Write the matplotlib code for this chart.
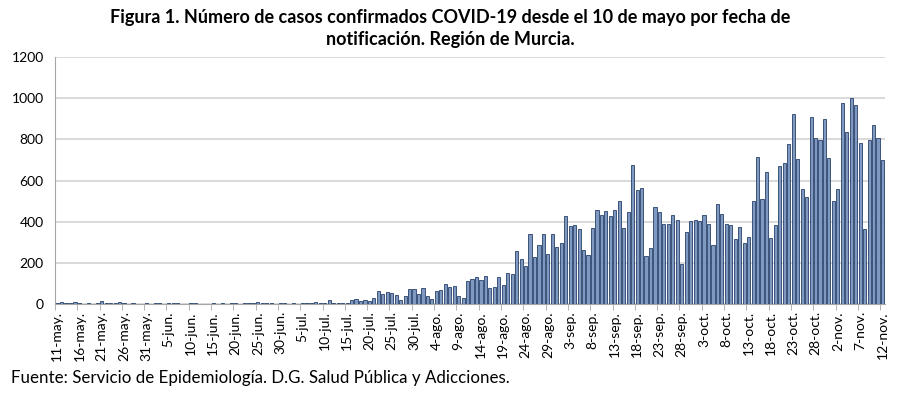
import numpy as np
import pandas as pd
import matplotlib
matplotlib.use("Agg")
import matplotlib.pyplot as plt
from matplotlib.ticker import MultipleLocator, FixedLocator

plt.rcParams['font.family'] = ['Lato', 'DejaVu Sans']

# daily cases, 11-may .. 12-nov
may = [8, 10, 6, 4, 9, 7, 3, 5, 2, 6, 14, 8, 5, 7, 10, 4, 2, 6, 3, 0, 5]
jun = [3, 8, 6, 2, 5, 7, 4, 1, 3, 5, 6, 2, 0, 3, 4, 2, 5, 3, 6, 4,
       3, 8, 6, 5, 12, 7, 4, 6, 3, 5]
jul = [4, 3, 5, 2, 6, 4, 8, 10, 8, 6, 20, 8, 4, 5, 8, 20, 25, 16, 20, 15,
       32, 65, 52, 60, 54, 45, 23, 40, 73, 76, 49]
ago = [81, 40, 28, 65, 70, 100, 82, 88, 40, 32, 114, 124, 132, 119, 138, 77,
       85, 132, 93, 153, 145, 259, 220, 186, 339, 231, 289, 339, 244, 339, 276]
sep = [297, 427, 381, 384, 365, 265, 239, 370, 455, 435, 450, 427, 458, 502,
       371, 445, 676, 553, 566, 232, 274, 474, 445, 390, 390, 431, 411, 195,
       348, 405]
octb = [411, 405, 434, 387, 286, 487, 440, 390, 382, 316, 377, 298, 324, 503,
        715, 508, 642, 319, 384, 669, 687, 776, 921, 705, 561, 519, 910, 807,
        794, 900, 710]
nov = [503, 558, 977, 834, 1002, 968, 784, 366, 798, 869, 807, 700]

casos = may + jun + jul + ago + sep + octb + nov
meses = {5: "may", 6: "jun", 7: "jul", 8: "ago", 9: "sep", 10: "oct", 11: "nov"}
fechas = pd.date_range("2020-05-11", "2020-11-12", freq="D")
etiquetas = [f"{d.day}-{meses[d.month]}." for d in fechas]

x = np.arange(len(casos))

fig = plt.figure(figsize=(9, 3.94), dpi=100)
ax = fig.add_axes([0.061, 0.2277, 0.922, 0.6283])

ax.bar(x, casos, width=0.7, color="#8099c0", edgecolor="#26406b", linewidth=0.6, zorder=3)

ax.set_xlim(-0.5, len(casos) - 0.5)
ax.set_ylim(0, 1200)
ax.yaxis.set_major_locator(MultipleLocator(200))
ax.grid(axis="y", color="#d9d9d9", linewidth=1.4, zorder=0)

ax.set_xticks(x[::5])
ax.set_xticklabels(etiquetas[::5], rotation=90, fontsize=10)
ax.xaxis.set_minor_locator(FixedLocator(np.arange(-0.5, len(casos), 5)))
ax.tick_params(axis="x", which="major", length=0, pad=5)
ax.tick_params(axis="x", which="minor", length=4, color="#a6a6a6")
ax.tick_params(axis="y", length=0, labelsize=10, pad=8)

for s in ["top", "right"]:
    ax.spines[s].set_visible(False)
ax.spines["left"].set_color("#a6a6a6")
ax.spines["bottom"].set_color("#a6a6a6")

fig.text(0.5, 0.955, "Figura 1. Número de casos confirmados COVID-19 desde el 10 de mayo por fecha de",
         ha="center", va="center", fontsize=13, fontweight="bold")
fig.text(0.5, 0.9, "notificación. Región de Murcia.",
         ha="center", va="center", fontsize=13, fontweight="bold")
fig.text(0.012, 0.04, "Fuente: Servicio de Epidemiología. D.G. Salud Pública y Adicciones.",
         ha="left", va="center", fontsize=12.2)

fig.savefig("out.png", dpi=100)
